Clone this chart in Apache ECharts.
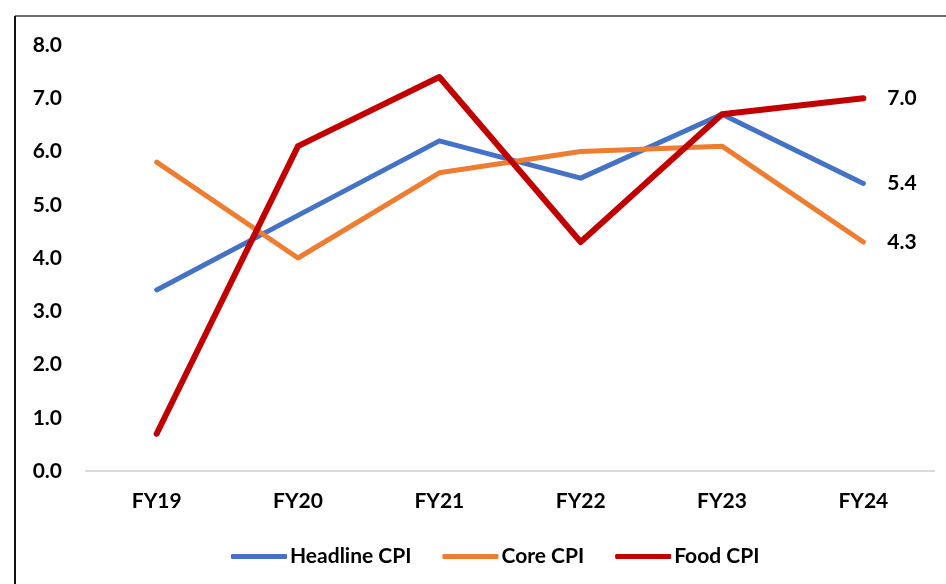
<!DOCTYPE html>
<html>
<head>
<meta charset="utf-8">
<script src="https://cdn.jsdelivr.net/npm/echarts@6/dist/echarts.min.js"></script>
<style>
html,body{margin:0;padding:0;background:#fff;}
#chart{width:946px;height:584px;}
</style>
</head>
<body>
<div id="chart"></div>
<script>
const categories = ['FY19','FY20','FY21','FY22','FY23','FY24'];
const headlineCPI = [3.4, 4.8, 6.2, 5.5, 6.7, 5.4];
const coreCPI = [5.8, 4.0, 5.6, 6.0, 6.1, 4.3];
const foodCPI = [0.7, 6.1, 7.4, 4.3, 6.7, 7.0];
const yTicks = { min: 0, max: 8, interval: 1 };

const FONT = 'Lato, "Open Sans", sans-serif';
const chart = echarts.init(document.getElementById('chart'), null, {renderer: 'canvas'});

function mk(name, data, color, width) {
  return {
    name: name,
    type: 'line',
    data: data,
    symbol: 'none',
    smooth: false,
    lineStyle: {color: color, width: width, cap: 'round', join: 'round'},
    itemStyle: {color: color},
    endLabel: {
      show: true,
      formatter: p => Number(p.value).toFixed(1),
      color: '#000',
      fontFamily: FONT,
      fontWeight: 'bold',
      fontSize: 21,
      distance: 24
    },
    emphasis: {disabled: true},
    animation: false
  };
}

chart.setOption({
  backgroundColor: '#fff',
  animation: false,
  grid: {left: 86, right: 12, top: 45, bottom: 113, containLabel: false},
  graphic: [
    {type: 'line', shape: {x1: 15, y1: 16, x2: 946, y2: 16}, style: {stroke: '#6b6b6b', lineWidth: 2}},
    {type: 'line', shape: {x1: 15, y1: 16, x2: 15, y2: 584}, style: {stroke: '#111', lineWidth: 2}}
  ],
  legend: {
    bottom: 12,
    left: 226,
    itemWidth: 56,
    itemHeight: 5,
    itemGap: 31,
    icon: 'roundRect',
    textStyle: {color: '#000', fontFamily: FONT, fontWeight: 'bold', fontSize: 21, padding: [0,0,0,-2]},
    data: ['Headline CPI','Core CPI','Food CPI']
  },
  xAxis: {
    type: 'category',
    data: categories,
    boundaryGap: true,
    axisLine: {show: true, lineStyle: {color: '#d9d9d9', width: 2}},
    axisTick: {show: false},
    axisLabel: {color: '#000', fontFamily: FONT, fontWeight: 'bold', fontSize: 21, margin: 20}
  },
  yAxis: {
    type: 'value',
    min: yTicks.min, max: yTicks.max, interval: yTicks.interval,
    splitLine: {show: false},
    axisLine: {show: false},
    axisTick: {show: false},
    axisLabel: {color: '#000', fontFamily: FONT, fontWeight: 'bold', fontSize: 21, margin: 24,
      formatter: v => v.toFixed(1)}
  },
  series: [
    mk('Headline CPI', headlineCPI, '#4472C4', 5),
    mk('Core CPI', coreCPI, '#ED7D31', 5),
    mk('Food CPI', foodCPI, '#C00000', 6)
  ]
});
</script>
</body>
</html>
